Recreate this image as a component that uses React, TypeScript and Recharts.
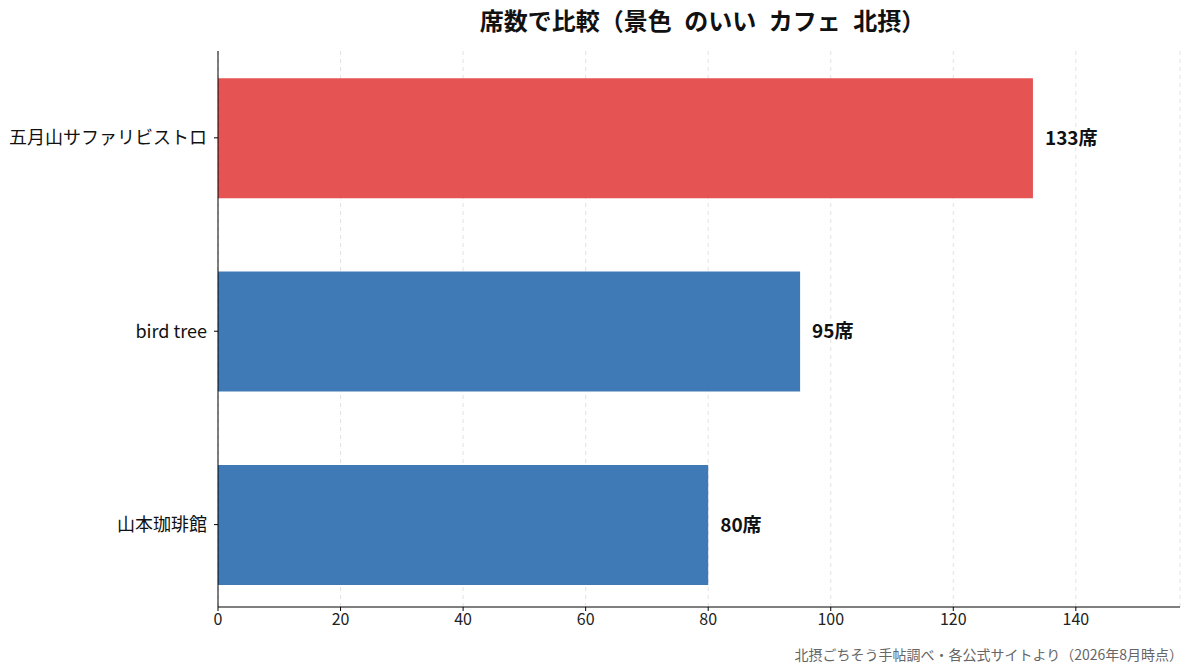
import { BarChart, Bar, XAxis, YAxis, CartesianGrid, LabelList, Cell } from 'recharts';

const cafes = ['五月山サファリビストロ', 'bird tree', '山本珈琲館'];
const seats = [133, 95, 80];
const xTicks = [0, 20, 40, 60, 80, 100, 120, 140];

const FONT = '"Noto Sans CJK JP", "Noto Sans", sans-serif';
const top = Math.max(...seats);

// numeric y position: 0 is drawn at the top in vertical layout
const data = cafes.map((name, i) => ({ name, seats: seats[i], pos: i }));

export default function App() {
  return (
    <div style={{ position: 'absolute', left: 0, top: 0, width: 1193, height: 672, background: '#fff', fontFamily: FONT }}>
      <div
        style={{
          position: 'absolute',
          left: 0,
          width: 1193,
          top: 2,
          textAlign: 'center',
          paddingLeft: 212,
          boxSizing: 'border-box',
          fontSize: 24,
          fontWeight: 700,
          wordSpacing: 7,
          color: '#111',
        }}
      >
        席数で比較（景色 のいい カフェ 北摂）
      </div>
      <BarChart
        width={1193}
        height={672}
        data={data}
        layout="vertical"
        margin={{ top: 51, right: 13, bottom: 35, left: 0 }}
      >
        <CartesianGrid horizontal={false} strokeDasharray="4 4" stroke="#e2e2e2" />
        <XAxis
          type="number"
          dataKey="seats"
          domain={[0, 157]}
          ticks={xTicks}
          allowDataOverflow
          stroke="#000"
          tickSize={4}
          tickMargin={3}
          fontSize={16}
          tick={{ fill: '#222', fontSize: 16, fontFamily: FONT }}
        />
        <YAxis
          type="number"
          dataKey="pos"
          domain={[-0.449, 2.426]}
          ticks={[0, 1, 2]}
          allowDataOverflow
          width={218}
          stroke="#000"
          tickSize={4}
          tickMargin={7}
          tickFormatter={(v: number) => cafes[v] ?? ''}
          tick={{ fill: '#111', fontSize: 18, fontFamily: FONT }}
        />
        <Bar dataKey="seats" barSize={120} fillOpacity={0.9} isAnimationActive={false}>
          {data.map((d) => (
            <Cell key={d.name} fill={d.seats === top ? '#e24040' : '#2a6caf'} />
          ))}
          <LabelList
            dataKey="seats"
            position="right"
            offset={12}
            formatter={(v: number) => `${v}席`}
            style={{ fontSize: 19, fontWeight: 700, fill: '#111', fontFamily: FONT }}
          />
        </Bar>
      </BarChart>
      <div
        style={{
          position: 'absolute',
          right: 10,
          top: 644,
          fontSize: 14,
          color: '#666',
        }}
      >
        北摂ごちそう手帖調べ・各公式サイトより（2026年8月時点）
      </div>
    </div>
  );
}
